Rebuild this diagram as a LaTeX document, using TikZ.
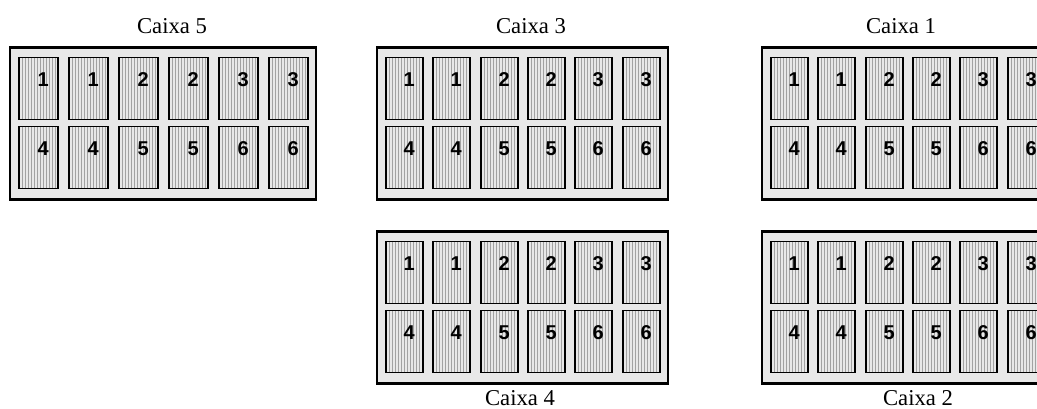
\documentclass[tikz,border=0pt]{standalone}
\usepackage{fontspec}
\setmainfont{Liberation Serif}
\newfontfamily\numfont{Liberation Sans}
\definecolor{boxfill}{HTML}{E8E8E8}
\definecolor{cellfill}{HTML}{E8E8E8}
\definecolor{stripegray}{HTML}{A2A2A2}
\tikzset{
  outerbox/.style={draw=black, line width=2.2pt, fill=boxfill, inner sep=0pt, outer sep=0pt},
  cellbox/.style={draw=black, line width=1.4pt, fill=cellfill, inner sep=0pt, outer sep=0pt,
    minimum height=62*0.75pt,
    path picture={
      \foreach \k in {1,...,12}
        \draw[stripegray, line width=0.75pt]
          ([xshift=\k*2.25pt+0.375pt]path picture bounding box.south west) --
          ([xshift=\k*2.25pt+0.375pt]path picture bounding box.north west);
    }},
  num/.style={font=\numfont\bfseries\fontsize{15pt}{16pt}\selectfont, inner sep=0pt},
  lab/.style={font=\fontsize{17pt}{19pt}\selectfont, inner sep=0pt, anchor=base}
}
% #1 name, #2 left, #3 top, #4 pitch, #5 cell width, #6 box width
\newcommand\drawcaixa[6]{%
  \node[outerbox, minimum width=#6*0.75pt, minimum height=152*0.75pt, anchor=north west] (#1) at (#2,#3) {};
  \foreach \r/\dy in {0/10, 1/79} {
    \foreach \c in {0,...,5} {
      \pgfmathtruncatemacro\n{\r*3 + int(\c/2) + 1}
      \pgfmathtruncatemacro\xx{round(#2+9+\c*#4)}
      \node[cellbox, minimum width=#5*0.75pt, anchor=north west] (#1-\r-\c) at (\xx, #3+\dy) {};
      \node[num] (#1-n\r-\c) at ([xshift=3.5pt, yshift=6.5pt]#1-\r-\c.center) {\n};
    }
  }
}
\begin{document}
\begin{tikzpicture}[x=0.75pt, y=-0.75pt]
  \useasboundingbox (0,0) rectangle (1037,408);
  \clip (0,0) rectangle (1037,408);
  \drawcaixa{c5}{10}{47.5}{50}{39}{306}
  \drawcaixa{c3}{377}{47.5}{47.3}{37}{291}
  \drawcaixa{c1}{762}{47.5}{47.3}{37}{291}
  \drawcaixa{c4}{377}{231.5}{47.3}{37}{291}
  \drawcaixa{c2}{762}{231.5}{47.3}{37}{291}
  \node[lab] (l5) at (172,33) {Caixa 5};
  \node[lab] (l3) at (531,33) {Caixa 3};
  \node[lab] (l1) at (901,33) {Caixa 1};
  \node[lab] (l4) at (520,405) {Caixa 4};
  \node[lab] (l2) at (918,405) {Caixa 2};
\end{tikzpicture}
\end{document}
